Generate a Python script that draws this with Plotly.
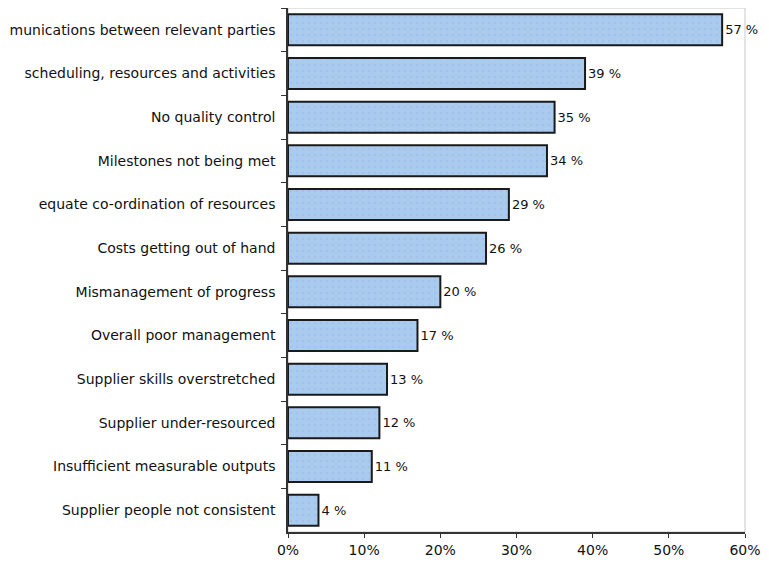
import plotly.graph_objects as go

categories = [
    "munications between relevant parties",
    "scheduling, resources and activities",
    "No quality control",
    "Milestones not being met",
    "equate co-ordination of resources",
    "Costs getting out of hand",
    "Mismanagement of progress",
    "Overall poor management",
    "Supplier skills overstretched",
    "Supplier under-resourced",
    "Insufficient measurable outputs",
    "Supplier people not consistent",
]
values = [57, 39, 35, 34, 29, 26, 20, 17, 13, 12, 11, 4]
x_tickvals = [0, 10, 20, 30, 40, 50, 60]
x_ticktext = ["0%", "10%", "20%", "30%", "40%", "50%", "60%"]

FONT = "DejaVu Sans, Verdana, sans-serif"

fig = go.Figure()
fig.add_trace(go.Bar(
    y=categories,
    x=values,
    orientation="h",
    marker=dict(
        color="#a9cbee",
        line=dict(color="#1a1a1a", width=2),
        pattern=dict(shape=".", fgcolor="#9fb8e8", bgcolor="#a9cbee", size=6, solidity=0.15),
    ),
    text=[f"{v} %" for v in values],
    textposition="outside",
    textfont=dict(family=FONT, size=13, color="#111"),
    cliponaxis=False,
    showlegend=False,
))

fig.update_layout(
    width=761, height=554,
    margin=dict(l=280, r=24, t=0, b=30, autoexpand=False),
    paper_bgcolor="white",
    plot_bgcolor="white",
    bargap=0.29,
    font=dict(family=FONT, size=14, color="#111"),
    shapes=[dict(type="rect", xref="paper", yref="paper", x0=0, y0=0, x1=1, y1=1,
                 line=dict(color="#c8c8c8", width=1), layer="below")],
)
fig.update_xaxes(
    range=[0, 60], tickvals=x_tickvals, ticktext=x_ticktext,
    showgrid=False, zeroline=False,
    showline=True, linecolor="#333", linewidth=1.5,
    ticks="outside", ticklen=4, tickcolor="#333",
    tickfont=dict(size=14), automargin=False,
)
fig.update_yaxes(
    categoryorder="array", categoryarray=categories, autorange="reversed",
    showgrid=False, zeroline=False,
    showline=True, linecolor="#333", linewidth=1.5,
    ticks="outside", ticklen=5, tickcolor="#333", tickson="boundaries",
    ticklabelstandoff=8,
    tickfont=dict(size=14), automargin=False,
)

fig.write_html("out.html")
